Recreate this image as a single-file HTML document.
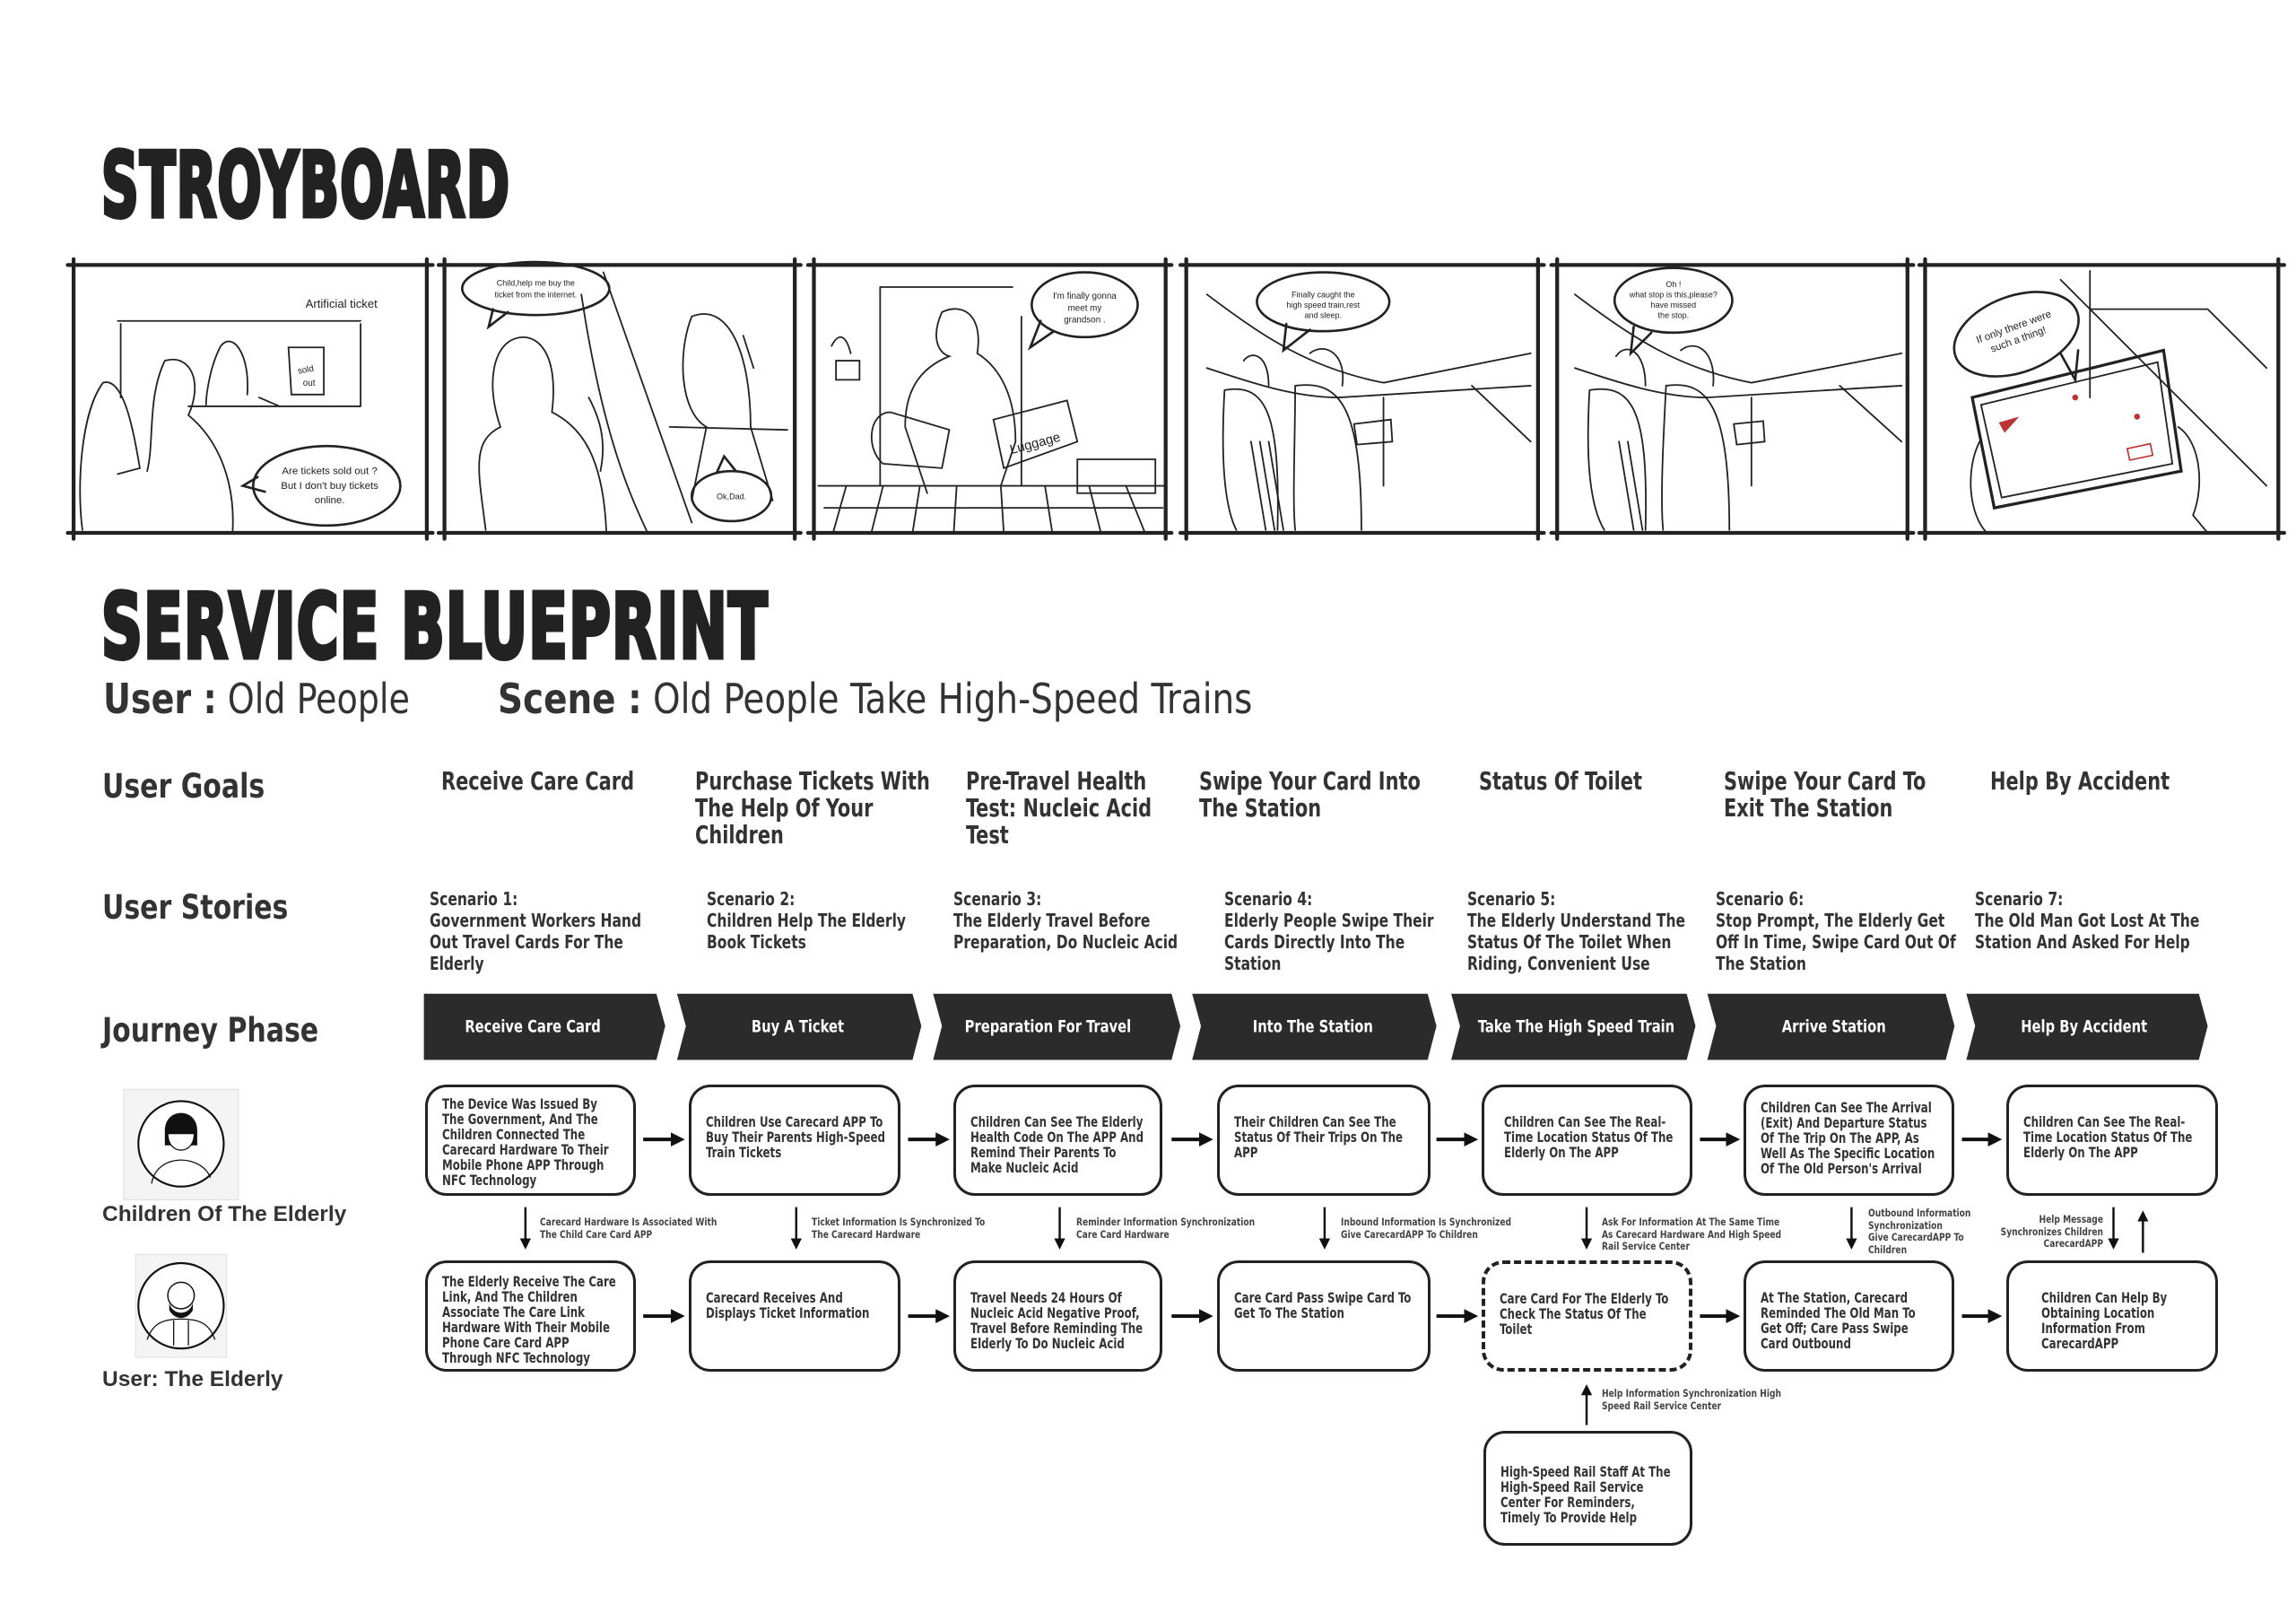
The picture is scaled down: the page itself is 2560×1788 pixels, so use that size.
<!DOCTYPE html>
<html><head><meta charset="utf-8">
<style>
*{margin:0;padding:0;box-sizing:border-box}
body{width:2560px;height:1788px;background:#fff;position:relative;overflow:hidden;font-family:"DejaVu Sans Condensed","Liberation Sans",sans-serif;color:#333}
.abs{position:absolute}
.title{font-family:"DejaVu Sans Condensed","Liberation Sans",sans-serif;font-weight:bold;color:#222;transform-origin:left top;-webkit-text-stroke:5px #222;letter-spacing:2px;white-space:nowrap}
.lbl{font-weight:bold;font-size:37px;color:#333;white-space:nowrap;transform:scaleX(.9);transform-origin:left top}
.goal{font-weight:bold;font-size:28px;line-height:30px;color:#333;width:330px;transform:scaleX(.83);transform-origin:left top}
.sc{font-weight:bold;font-size:20.5px;line-height:24px;color:#333;width:321px;transform:scaleX(.84);transform-origin:left top}
.box{position:absolute;border:3.5px solid #222;border-radius:24px;font-weight:bold;font-size:16px;line-height:17px;color:#333;padding:30px 14px 0 16px;background:#fff}
.box>div{transform:scaleX(.82);transform-origin:left top;width:122%}
.box.dash{border:4px dashed #222}
.note{position:absolute;font-weight:bold;font-size:11.5px;line-height:13.5px;color:#444;white-space:nowrap;transform:scaleX(.88);transform-origin:left top}
.av{font-family:"Liberation Sans",sans-serif;font-weight:bold;font-size:24.5px;color:#333;white-space:nowrap}
</style></head><body>

<svg class="abs" style="left:0;top:0" width="2560" height="1788" viewBox="0 0 1560 1089.56" xmlns="http://www.w3.org/2000/svg">
<g stroke="#222" fill="none" stroke-linecap="round">
 <g stroke-width="2.6">
  <path d="M46 180H294M46 362H294M50 176V366M290 176V366"/>
  <path d="M298 180H544M298 362H544M302 176V366M540 176V366"/>
  <path d="M549 180H796M549 362H796M553 176V366M792 176V366"/>
  <path d="M802 180H1049M802 362H1049M806 176V366M1045 176V366"/>
  <path d="M1054 180H1300M1054 362H1300M1058 176V366M1296 176V366"/>
  <path d="M1304 180H1552M1304 362H1552M1308 176V366M1548 176V366"/>
 </g>
 <g stroke-width="1.1">
  <path d="M80 218H245M82 220V270M245 220V276M128 276H245"/>
  <path d="M70 260C55 280 52 330 56 360M70 260C85 255 92 300 95 318L80 322"/>
  <path d="M112 245C130 240 138 260 128 282C150 300 160 330 158 362M112 245C100 270 105 300 100 320"/>
  <path d="M150 235C158 225 170 240 168 268M150 235C142 250 140 270 140 275"/>
  <path d="M196 236H220V268H198Z"/>
  <path d="M176 270L190 276"/>
 </g>
 <ellipse cx="222" cy="330" rx="50" ry="27" stroke-width="1.6"/>
 <path d="M175 324L165 330L180 334" stroke-width="1.6"/>
 <g stroke-width="1.1">
  <path d="M395 200C410 300 430 340 440 362M410 185L470 355M330 360C325 320 320 300 340 290C330 260 335 235 350 230C365 225 380 240 375 280C395 290 410 310 412 362"/>
  <path d="M400 270C408 285 412 300 408 320"/>
  <path d="M470 215C460 240 462 280 480 290L470 340M470 215C495 205 510 240 510 290L525 340M505 228L512 250"/>
  <path d="M455 290L535 292"/>
 </g>
 <ellipse cx="364" cy="196" rx="50" ry="18" stroke-width="1.6"/>
 <path d="M335 210L332 222L345 212" stroke-width="1.6"/>
 <ellipse cx="497" cy="337" rx="27" ry="17" stroke-width="1.6"/>
 <path d="M487 321L492 310L500 320" stroke-width="1.6"/>
 <g stroke-width="1.1">
  <path d="M598 330V195H688M694 215V330"/>
  <path d="M556 330H792M560 345H790M575 330L566 362M600 330L592 362M625 330L620 362M650 330L648 362M680 330L682 362M710 330L715 362M740 330L748 362M765 330L778 362"/>
  <path d="M640 212C655 205 668 215 664 240C680 250 690 270 690 300L680 330M640 212C632 230 638 240 645 242C625 250 615 265 615 290L630 335"/>
  <path d="M605 280C590 280 588 305 600 315L640 318L645 292Z"/>
  <path d="M675 285L725 272L732 300L682 318Z"/>
  <path d="M732 312H785V335H732Z"/>
  <path d="M565 235C570 225 575 228 578 240M568 245H584V258H568Z"/>
 </g>
 <ellipse cx="737" cy="207" rx="36" ry="22" stroke-width="1.6"/>
 <path d="M707 218L700 236L716 225" stroke-width="1.6"/>
 <g stroke-width="1.1">
  <path d="M820 200C860 230 890 250 940 260L1040 240M820 250C850 260 880 270 910 270L1040 262M940 270V330M1000 262L1040 300"/>
  <path d="M832 265C830 300 830 340 840 360M832 265C860 260 870 280 868 360M880 262C880 300 878 340 880 360M880 262C910 258 925 275 925 360"/>
  <path d="M845 245C850 238 862 240 862 262M890 240C900 232 915 240 912 262"/>
  <path d="M850 300L860 360M856 300L866 360M862 300L872 360M920 288L945 285L946 300L922 302Z"/>
 </g>
 <ellipse cx="899" cy="205" rx="45" ry="20" stroke-width="1.6"/>
 <path d="M874 220L872 238L890 224" stroke-width="1.6"/>
 <g stroke-width="1.1">
  <path d="M1070 200C1110 230 1140 250 1190 260L1292 240M1070 250C1100 260 1130 270 1160 270L1292 262M1190 270V330M1250 262L1292 300"/>
  <path d="M1080 265C1078 300 1078 340 1090 360M1080 265C1110 260 1120 280 1118 360M1132 262C1130 300 1128 340 1130 360M1132 262C1160 258 1175 275 1175 360"/>
  <path d="M1098 242C1105 232 1118 238 1118 262M1142 238C1152 230 1166 238 1164 262"/>
  <path d="M1100 300L1110 360M1106 300L1116 360M1178 288L1198 286L1199 300L1180 302Z"/>
 </g>
 <ellipse cx="1137" cy="204" rx="40" ry="22" stroke-width="1.6"/>
 <path d="M1110 222L1108 240L1122 226" stroke-width="1.6"/>
 <g stroke-width="1.1">
  <path d="M1400 190L1540 330M1420 184V270M1420 210H1500L1540 250"/>
  <path d="M1340 270L1470 238L1482 320L1355 345Z" stroke-width="2"/>
  <path d="M1346 275L1466 246L1476 315L1360 338Z"/>
  <path d="M1345 300C1335 320 1338 350 1350 362M1480 290C1495 300 1498 330 1490 350L1500 362"/>
 </g>
 <ellipse cx="1370" cy="227" rx="44" ry="26" transform="rotate(-20 1370 227)" stroke-width="1.6"/>
 <path d="M1400 240L1410 258L1412 238" stroke-width="1.6"/>
 <g fill="#b33" stroke="none"><path d="M1358 287L1372 283L1362 294Z"/><circle cx="1410" cy="270" r="2"/><circle cx="1452" cy="283" r="2"/></g>
 <rect x="1446" y="303" width="16" height="8" stroke="#b33" stroke-width="1" transform="rotate(-12 1454 307)"/>
</g>
<g font-family="Liberation Sans, sans-serif" fill="#222" text-anchor="middle">
 <text x="232" y="209" font-size="8">Artificial ticket</text>
 <text x="208" y="253" font-size="6" transform="rotate(-10 208 253)">sold</text><text x="210" y="262" font-size="6">out</text>
 <text x="224" y="322" font-size="7">Are tickets sold out ?</text>
 <text x="224" y="332" font-size="7">But I don't buy tickets</text>
 <text x="224" y="342" font-size="7">online.</text>
 <text x="364" y="194" font-size="5.5">Child,help me buy the</text>
 <text x="364" y="202" font-size="5.5">ticket from the internet.</text>
 <text x="497" y="339" font-size="5.5">Ok,Dad.</text>
 <text x="737" y="203" font-size="6">I'm finally gonna</text>
 <text x="737" y="211" font-size="6">meet my</text>
 <text x="737" y="219" font-size="6">grandson .</text>
 <text x="704" y="304" font-size="9" transform="rotate(-15 704 304)">Luggage</text>
 <text x="899" y="202" font-size="5.5">Finally caught the</text>
 <text x="899" y="209" font-size="5.5">high speed train,rest</text>
 <text x="899" y="216" font-size="5.5">and sleep.</text>
 <text x="1137" y="195" font-size="5.5">Oh !</text>
 <text x="1137" y="202" font-size="5.5">what stop is this,please?</text>
 <text x="1137" y="209" font-size="5.5">have missed</text>
 <text x="1137" y="216" font-size="5.5">the stop.</text>
 <g transform="rotate(-20 1370 227)"><text x="1370" y="224" font-size="7">If only there were</text><text x="1370" y="233" font-size="7">such a thing!</text></g>
</g>

<g fill="#2b2b2b">
 <polygon points="288,675 446,675 452,697 446,720 288,720"/>
 <polygon points="460,675 620,675 626,697 620,720 460,720 466,697"/>
 <polygon points="634,675 796,675 802,697 796,720 634,720 640,697"/>
 <polygon points="810,675 970,675 976,697 970,720 810,720 816,697"/>
 <polygon points="986,675 1146,675 1152,697 1146,720 986,720 992,697"/>
 <polygon points="1160,675 1322,675 1328,697 1322,720 1160,720 1166,697"/>
 <polygon points="1336,675 1494,675 1500,697 1494,720 1336,720 1342,697"/>
</g>
<g fill="#fff" font-family="DejaVu Sans Condensed, Liberation Sans, sans-serif" font-weight="bold" font-size="11.6" text-anchor="middle">
 <text transform="translate(362 701) scale(0.86 1)">Receive Care Card</text>
 <text transform="translate(542 701) scale(0.86 1)">Buy A Ticket</text>
 <text transform="translate(712 701) scale(0.86 1)">Preparation For Travel</text>
 <text transform="translate(892 701) scale(0.86 1)">Into The Station</text>
 <text transform="translate(1071 701) scale(0.86 1)">Take The High Speed Train</text>
 <text transform="translate(1246 701) scale(0.86 1)">Arrive Station</text>
 <text transform="translate(1416 701) scale(0.86 1)">Help By Accident</text>
</g>

<defs><marker id="ah" markerWidth="4" markerHeight="4" refX="2.2" refY="2" orient="auto" markerUnits="strokeWidth"><path d="M0,0L4,2L0,4Z" fill="#111"/></marker>
<marker id="ah2" markerWidth="5" markerHeight="5" refX="2.5" refY="2.5" orient="auto" markerUnits="strokeWidth"><path d="M0,0L5,2.5L0,5Z" fill="#111"/></marker></defs>
<g stroke="#111" stroke-width="2.4" marker-end="url(#ah)">
 <path d="M437 774H461"/><path d="M617 774H641"/><path d="M796 774H820"/><path d="M976 774H1000"/><path d="M1155 774H1178"/><path d="M1333 774H1356"/>
 <path d="M437 894H461"/><path d="M617 894H641"/><path d="M796 894H820"/><path d="M976 894H1000"/><path d="M1155 894H1178"/><path d="M1333 894H1356"/>
</g>
<g stroke="#111" stroke-width="1.5" marker-end="url(#ah2)">
 <path d="M357 820V845"/><path d="M541 820V845"/><path d="M720 820V845"/><path d="M900 820V845"/><path d="M1078 820V845"/><path d="M1258 820V845"/><path d="M1436 820V845"/>
 <path d="M1456 851V826"/><path d="M1078 968V944"/>
</g>

<rect x="84" y="740" width="78" height="75" fill="#f4f4f4" stroke="#ddd" stroke-width="0.6"/>
<circle cx="123" cy="777" r="29" fill="#fff" stroke="#111" stroke-width="1.3"/>
<path d="M112 768C112 752 134 752 134 768L134 778H112Z" fill="#111"/>
<path d="M114 770C114 785 132 785 132 770Z" fill="#fff" stroke="#111" stroke-width="0.8"/>
<path d="M103 804C105 792 115 788 123 788C131 788 140 792 143 800" fill="none" stroke="#111" stroke-width="0.8"/>
<rect x="92" y="852" width="62" height="70" fill="#f4f4f4" stroke="#ddd" stroke-width="0.6"/>
<circle cx="123" cy="887" r="29" fill="#fff" stroke="#111" stroke-width="1.3"/>
<circle cx="123" cy="880" r="9" fill="#fff" stroke="#111" stroke-width="0.9"/>
<path d="M115 885C117 894 129 894 131 885L131 890C127 897 119 897 115 890Z" fill="#111"/>
<path d="M100 910C104 898 112 896 123 896C134 896 142 898 146 910M118 897V914M128 897V914" fill="none" stroke="#111" stroke-width="0.8"/>
</svg>

<div class="abs title" style="left:113px;top:148px;font-size:100px;transform:scaleX(0.643)">STROYBOARD</div>
<div class="abs title" style="left:113px;top:640px;font-size:100px;transform:scaleX(0.706)">SERVICE BLUEPRINT</div>

<div class="abs" style="left:115px;top:752px;font-size:46px;white-space:nowrap;color:#333;transform:scaleX(.92);transform-origin:left top"><b>User :</b> Old People</div>
<div class="abs" style="left:555px;top:752px;font-size:46px;white-space:nowrap;color:#333;transform:scaleX(.94);transform-origin:left top"><b>Scene :</b> Old People Take High-Speed Trains</div>

<div class="abs lbl" style="left:114px;top:855px">User Goals</div>
<div class="abs lbl" style="left:114px;top:990px">User Stories</div>
<div class="abs lbl" style="left:114px;top:1127px">Journey Phase</div>

<div class="abs goal" style="left:492px;top:856px">Receive Care Card</div>
<div class="abs goal" style="left:775px;top:856px">Purchase Tickets With The Help Of Your Children</div>
<div class="abs goal" style="left:1077px;top:856px;width:300px">Pre-Travel Health Test: Nucleic Acid Test</div>
<div class="abs goal" style="left:1337px;top:856px;width:315px">Swipe Your Card Into The Station</div>
<div class="abs goal" style="left:1649px;top:856px">Status Of Toilet</div>
<div class="abs goal" style="left:1922px;top:856px;width:300px">Swipe Your Card To Exit The Station</div>
<div class="abs goal" style="left:2219px;top:856px">Help By Accident</div>

<div class="abs sc" style="left:479px;top:990px">Scenario 1:<br>Government Workers Hand Out Travel Cards For The Elderly</div>
<div class="abs sc" style="left:788px;top:990px;width:286px">Scenario 2:<br>Children Help The Elderly Book Tickets</div>
<div class="abs sc" style="left:1063px;top:990px">Scenario 3:<br>The Elderly Travel Before Preparation, Do Nucleic Acid</div>
<div class="abs sc" style="left:1365px;top:990px;width:300px">Scenario 4:<br>Elderly People Swipe Their Cards Directly Into The Station</div>
<div class="abs sc" style="left:1636px;top:990px">Scenario 5:<br>The Elderly Understand The Status Of The Toilet When Riding, Convenient Use</div>
<div class="abs sc" style="left:1913px;top:990px">Scenario 6:<br>Stop Prompt, The Elderly Get Off In Time, Swipe Card Out Of The Station</div>
<div class="abs sc" style="left:2202px;top:990px">Scenario 7:<br>The Old Man Got Lost At The Station And Asked For Help</div>

<div class="box" style="left:474px;top:1209px;width:235px;height:124px;padding-top:10px"><div>The Device Was Issued By The Government, And The Children Connected The Carecard Hardware To Their Mobile Phone APP Through NFC Technology</div></div>
<div class="box" style="left:768px;top:1209px;width:236px;height:124px"><div>Children Use Carecard APP To Buy Their Parents High-Speed Train Tickets</div></div>
<div class="box" style="left:1063px;top:1209px;width:233px;height:124px"><div>Children Can See The Elderly Health Code On The APP And Remind Their Parents To Make Nucleic Acid</div></div>
<div class="box" style="left:1357px;top:1209px;width:238px;height:124px"><div>Their Children Can See The Status Of Their Trips On The APP</div></div>
<div class="box" style="left:1652px;top:1209px;width:235px;height:124px;padding-left:22px"><div>Children Can See The Real-Time Location Status Of The Elderly On The APP</div></div>
<div class="box" style="left:1944px;top:1209px;width:235px;height:124px;padding-top:14px"><div>Children Can See The Arrival (Exit) And Departure Status Of The Trip On The APP, As Well As The Specific Location Of The Old Person's Arrival</div></div>
<div class="box" style="left:2237px;top:1209px;width:236px;height:124px;padding-left:16px"><div>Children Can See The Real-Time Location Status Of The Elderly On The APP</div></div>

<div class="note" style="left:602px;top:1356px">Carecard Hardware Is Associated With<br>The Child Care Card APP</div>
<div class="note" style="left:905px;top:1356px">Ticket Information Is Synchronized To<br>The Carecard Hardware</div>
<div class="note" style="left:1200px;top:1356px">Reminder Information Synchronization<br>Care Card Hardware</div>
<div class="note" style="left:1495px;top:1356px">Inbound Information Is Synchronized<br>Give CarecardAPP To Children</div>
<div class="note" style="left:1786px;top:1356px">Ask For Information At The Same Time<br>As Carecard Hardware And High Speed<br>Rail Service Center</div>
<div class="note" style="left:2083px;top:1346px">Outbound Information<br>Synchronization<br>Give CarecardAPP To<br>Children</div>
<div class="note" style="left:2170px;top:1353px;width:175px;text-align:right;transform-origin:right top">Help Message<br>Synchronizes Children<br>CarecardAPP</div>
<div class="note" style="left:1786px;top:1547px">Help Information Synchronization High<br>Speed Rail Service Center</div>

<div class="box" style="left:474px;top:1405px;width:235px;height:124px;padding-top:12px"><div>The Elderly Receive The Care Link, And The Children Associate The Care Link Hardware With Their Mobile Phone Care Card APP Through NFC Technology</div></div>
<div class="box" style="left:768px;top:1405px;width:236px;height:124px"><div>Carecard Receives And Displays Ticket Information</div></div>
<div class="box" style="left:1063px;top:1405px;width:233px;height:124px"><div>Travel Needs 24 Hours Of Nucleic Acid Negative Proof, Travel Before Reminding The Elderly To Do Nucleic Acid</div></div>
<div class="box" style="left:1357px;top:1405px;width:238px;height:124px"><div>Care Card Pass Swipe Card To Get To The Station</div></div>
<div class="box dash" style="left:1652px;top:1405px;width:235px;height:124px"><div>Care Card For The Elderly To Check The Status Of The Toilet</div></div>
<div class="box" style="left:1944px;top:1405px;width:235px;height:124px"><div>At The Station, Carecard Reminded The Old Man To Get Off; Care Pass Swipe Card Outbound</div></div>
<div class="box" style="left:2237px;top:1405px;width:236px;height:124px;padding-left:36px"><div>Children Can Help By Obtaining Location Information From CarecardAPP</div></div>

<div class="box" style="left:1654px;top:1595px;width:233px;height:128px;padding-top:34px"><div>High-Speed Rail Staff At The High-Speed Rail Service Center For Reminders, Timely To Provide Help</div></div>

<div class="abs av" style="left:114px;top:1340px">Children Of The Elderly</div>
<div class="abs av" style="left:114px;top:1524px">User: The Elderly</div>
</body></html>
